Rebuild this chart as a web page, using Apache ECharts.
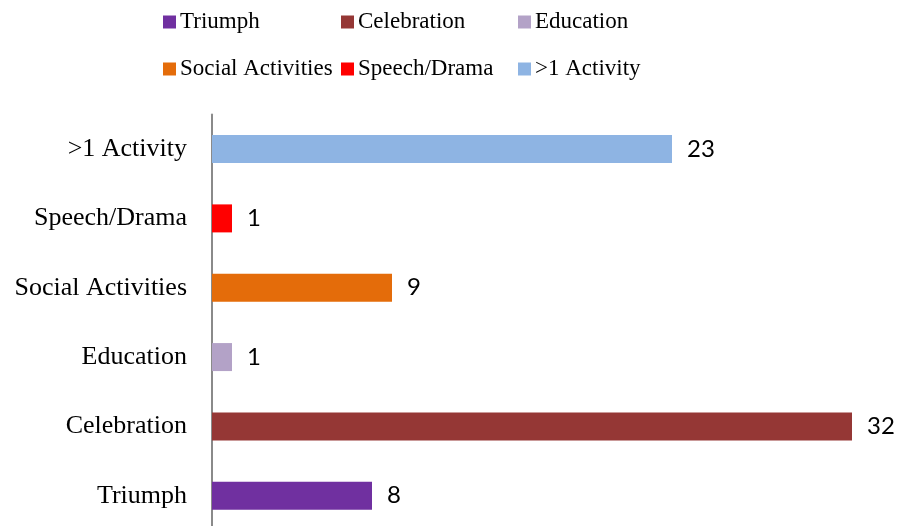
<!DOCTYPE html>
<html>
<head>
<meta charset="utf-8">
<script src="https://cdn.jsdelivr.net/npm/echarts@6/dist/echarts.min.js"></script>
<style>
  html, body { margin: 0; padding: 0; background: #ffffff; }
  #chart { width: 897px; height: 526px; }
</style>
</head>
<body>
<div id="chart"></div>
<script>
// Activity categories, bottom to top on the vertical axis
const categories = ['Triumph', 'Celebration', 'Education', 'Social Activities', 'Speech/Drama', '>1 Activity'];
// Count for each activity
const counts = [8, 32, 1, 9, 1, 23];
// Bar colour for each activity
const colors = ['#7030A0', '#953735', '#B3A2C7', '#E46C0A', '#FF0000', '#8EB4E3'];

// Legend layout: three columns, two rows
const legendCols = [163, 341, 518];
const legendRows = [7, 54];

const serif = '"Liberation Serif", "Times New Roman", serif';

// One series per activity so each gets its own legend entry
const series = categories.map(function (name, i) {
  const data = categories.map(function (_, j) { return j === i ? counts[i] : '-'; });
  return {
    name: name,
    type: 'bar',
    stack: 'all',
    barWidth: 28,
    data: data,
    itemStyle: { color: colors[i] },
    label: {
      show: true,
      position: 'right',
      distance: 15,
      formatter: '{c}',
      color: '#000000',
      fontFamily: 'Lato, "Noto Sans", sans-serif',
      fontSize: 24
    }
  };
});

const legends = categories.map(function (name, i) {
  return {
    data: [name],
    left: legendCols[i % 3],
    top: legendRows[Math.floor(i / 3)],
    padding: 0,
    itemWidth: 13,
    itemHeight: 13,
    icon: 'rect',
    selectedMode: false,
    textStyle: {
      fontFamily: serif,
      fontSize: 23,
      lineHeight: 26,
      color: '#000000',
      padding: [4, 0, 0, -1]
    }
  };
});

const chart = echarts.init(document.getElementById('chart'), null, { renderer: 'canvas' });
chart.setOption({
  animation: false,
  backgroundColor: '#ffffff',
  legend: legends,
  grid: { left: 212, top: 114.4, width: 640, height: 416, outerBoundsMode: 'none', containLabel: false },
  xAxis: {
    type: 'value',
    min: 0,
    max: 32,
    show: false
  },
  yAxis: {
    type: 'category',
    data: categories,
    axisLine: { show: true, lineStyle: { color: '#8a8a8a', width: 2 } },
    axisTick: { show: false },
    axisLabel: {
      margin: 25,
      color: '#000000',
      fontFamily: serif,
      fontSize: 26
    },
    splitLine: { show: false }
  },
  series: series
});
</script>
</body>
</html>
